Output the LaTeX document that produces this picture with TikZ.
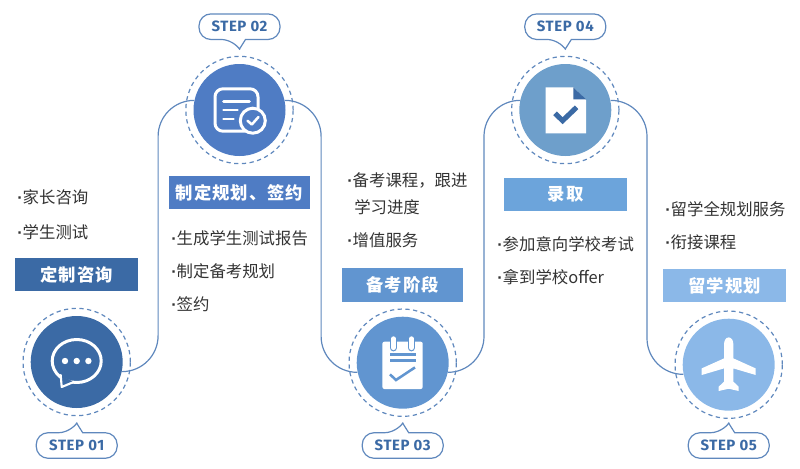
\documentclass[tikz,border=0pt]{standalone}
\usepackage{fontspec}
\usepackage{xcolor}
\setmainfont{Noto Sans CJK SC}
\newfontfamily\stepfont[LetterSpace=4]{Fira Sans}
\newfontfamily\headfont[LetterSpace=6]{Noto Sans CJK SC}
\newfontfamily\dotfont{Liberation Sans}
\newcommand{\bul}{{\dotfont\bfseries ·}}
\usetikzlibrary{arrows,calc}
\definecolor{colA}{HTML}{3B6AA5}
\definecolor{colB}{HTML}{4F7CC4}
\definecolor{colC}{HTML}{6195D0}
\definecolor{colD}{HTML}{6E9FCB}
\definecolor{colE}{HTML}{8BB8E8}
\definecolor{headD}{HTML}{6CA4DB}
\definecolor{flowcol}{HTML}{5F88BD}
\definecolor{bodycol}{HTML}{333333}
\tikzset{
  stepdisc/.style={circle,inner sep=0pt,minimum size=69pt},
  stepring/.style={circle,draw=flowcol,line width=.9pt,dash pattern=on 3.2pt off 2.6pt,inner sep=0pt,minimum size=80.5pt},
  steptag/.style={text=colA,font=\stepfont\bfseries\fontsize{11.2}{13}\selectfont,inner sep=0pt},
  tagline/.style={draw=flowcol,line width=.9pt},
  flow/.style={draw=flowcol,line width=.9pt,rounded corners=27pt},
  headbar/.style={text=white,font=\headfont\bfseries\fontsize{13}{15}\selectfont,minimum height=25pt,inner sep=0pt},
  item/.style={anchor=west,text=bodycol,inner sep=0pt,font=\fontsize{12.3}{14}\selectfont},
  iconline/.style={draw=white,line width=2.25pt,line cap=round,line join=round}
}
\begin{document}
\begin{tikzpicture}[x=.75pt,y=-.75pt]
  \useasboundingbox (0,0) rectangle (800,468);
  % Define discs, rings and tags
  \foreach \n/\px/\py/\col/\ty/\s in {1/76.7/362/colA/445.5/1,2/239.5/110/colB/26.7/-1,3/402.7/362.7/colC/445.5/1,4/565.3/110/colD/26.7/-1,5/728.7/364.7/colE/445.5/1}{
    \node[stepdisc,fill=\col] (c\n) at (\px,\py) {};
    \node[stepring] (r\n) at (c\n) {};
    \node[steptag] (t\n) at (\px,\ty) {STEP 0\n};
    \begin{scope}[shift={(t\n.center)},yscale=\s]
      \draw[tagline] (-6,-12.8) [sharp corners] -- (0,-22.3) -- (6,-12.8) [rounded corners=9pt] -- (40.5,-12.8) -- (40.5,12.8) -- (-40.5,12.8) -- (-40.5,-12.8) -- cycle;
    \end{scope}
  }
  % Connect the discs
  \foreach \a/\oa/\b/\ob in {1/-12/2/168,2/12/3/192,3/-12/4/168,4/12/5/192}{
    \draw[flow] (c\a.\oa) -| ($(c\a.\oa)!.5!(c\b.\ob)$) |- (c\b.\ob);
  }
  % Head bars
  \node[headbar,fill=colA,minimum width=92.2pt] (h1) at (76.5,274.8) {定制咨询};
  \node[headbar,fill=colB,minimum width=105.7pt] (h2) at (239.5,192.5) {制定规划、签约};
  \node[headbar,fill=colC,minimum width=91.2pt] (h3) at (402.5,285) {备考阶段};
  \node[headbar,fill=headD,minimum width=91.8pt] (h4) at (565.5,194.5) {录取};
  \node[headbar,fill=colE,minimum width=91.8pt] (h5) at (724.5,285.7) {留学规划};
  % Item texts
  \node[item] (i1) at (17,197) {\bul 家长咨询};
  \node[item] (i2) at (17,232) {\bul 学生测试};
  \node[item] (i3) at (171,238) {\bul 生成学生测试报告};
  \node[item] (i4) at (171,271) {\bul 制定备考规划};
  \node[item] (i5) at (171,304) {\bul 签约};
  \node[item] (i6) at (347,180) {\bul 备考课程，跟进};
  \node[item] (i7) at (354,207) {学习进度};
  \node[item] (i8) at (347,240) {\bul 增值服务};
  \node[item] (i9) at (497,244) {\bul 参加意向学校考试};
  \node[item] (i10) at (497,277) {\bul 拿到学校offer};
  \node[item] (i11) at (665,209) {\bul 留学全规划服务};
  \node[item] (i12) at (665,242) {\bul 衔接课程};
  % Icon 1, chat bubble
  \begin{scope}[shift={(c1.center)}]
    \draw[iconline] (0,-1) ellipse [x radius=24.5,y radius=21.5];
    \draw[iconline,line width=1.6pt,fill=colA] (-16,13) -- (-15,25) -- (-3,20);
    \foreach \x in {-11.7,0,11.7}{
      \fill[white] (\x,-1) circle [radius=3.2];
    }
  \end{scope}
  % Icon 2, form with check
  \begin{scope}[shift={(c2.center)}]
    \draw[iconline,rounded corners=6pt] (-24.5,-21.2) rectangle (18.5,21.2);
    \draw[iconline,line width=1.9pt] (-16,-8.3) -- (10,-8.3) (-16,0) -- (-2,0) (-16,9) -- (-6,9);
    \draw[iconline,fill=colB] (13.3,10.7) circle [radius=12.5];
    \draw[iconline,line width=1.9pt] (8,10.7) -- (12.3,14.5) -- (19,7);
  \end{scope}
  % Icon 3, notepad
  \begin{scope}[shift={(c3.center)}]
    \fill[white,rounded corners=1.5pt] (-20.3,-21) rectangle (20,26.3);
    \foreach \x in {-9.3,8.7}{
      \draw[colC,line width=5.6pt,line cap=round] (\x,-24) -- (\x,-15);
      \draw[white,line width=3.6pt,line cap=round] (\x,-24) -- (\x,-15);
    }
    \draw[colC,line width=1.9pt] (-12.7,-8.3) -- (13,-8.3) (-12.7,-2) -- (13,-2);
    \draw[colC,line width=1.9pt] (-12.7,11.7) -- (-6.7,17.3) -- (12.3,4.7);
  \end{scope}
  % Icon 4, sheet with check
  \begin{scope}[shift={(c4.center)}]
    \fill[white] (-19.7,-22.7) -- (8,-22.7) -- (20.7,-10) -- (20.7,23.3) -- (-19.7,23.3) -- cycle;
    \fill[colA] (8,-22.7) -- (20.7,-10.7) -- (8,-10.7) -- cycle;
    \draw[colA,line width=3.8pt] (-10.3,3.3) -- (-2.7,10.7) -- (11.3,-2.7);
  \end{scope}
  % Icon 5, plane
  \begin{scope}[shift={(c5.center)}]
    \fill[white] (0,-27.3) .. controls (3,-27.3) and (4.7,-24) .. (4.7,-20) -- (4.7,-6.3) -- (27,3.7) -- (27,10.3) -- (4.7,3.7)
      -- (4.7,17) -- (10,22) -- (10,26.3) -- (0,24) -- (-10,26.3) -- (-10,22) -- (-4.7,17) -- (-4.7,3.7)
      -- (-27,10.3) -- (-27,3.7) -- (-4.7,-6.3) -- (-4.7,-20) .. controls (-4.7,-24) and (-3,-27.3) .. (0,-27.3) -- cycle;
  \end{scope}
\end{tikzpicture}
\end{document}
